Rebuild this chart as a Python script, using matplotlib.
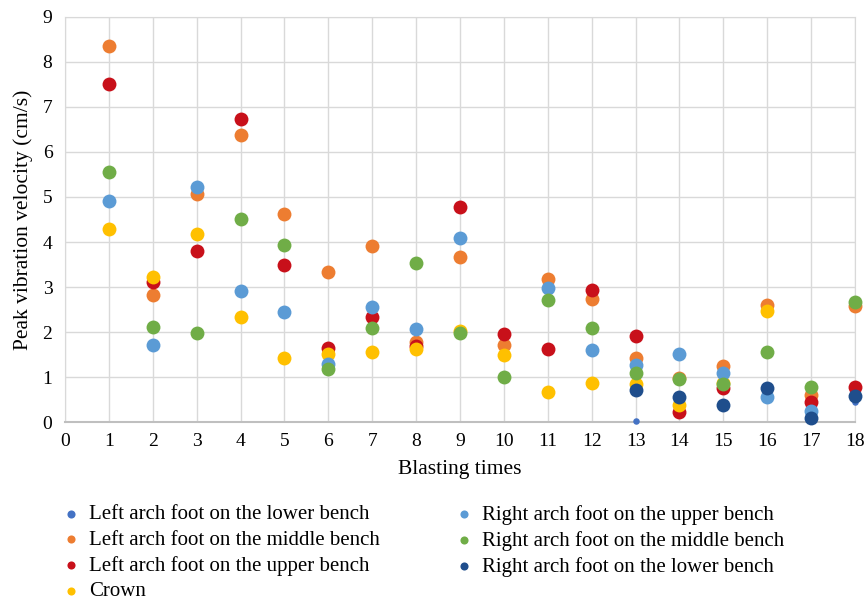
import numpy as np
import matplotlib.pyplot as plt

plt.rcParams['font.family'] = ['Liberation Serif', 'DejaVu Serif']

# blasting times and peak vibration velocity (cm/s)
left_lower_x = [13, 17, 18]
left_lower_y = [0.03, 0.12, 0.44]

left_middle_x = [1, 2, 3, 4, 5, 6, 7, 8, 9, 10, 11, 12, 13, 14, 15, 16, 17, 18]
left_middle_y = [8.35, 2.83, 5.07, 6.37, 4.63, 3.34, 3.92, 1.77, 3.67, 1.71, 3.18, 2.74, 1.42, 0.97, 1.25, 2.60, 0.60, 2.58]

left_upper_x = [1, 2, 3, 4, 5, 6, 7, 8, 9, 10, 11, 12, 13, 14, 15, 17, 18]
left_upper_y = [7.51, 3.12, 3.81, 6.73, 3.49, 1.65, 2.33, 1.70, 4.78, 1.95, 1.62, 2.94, 1.92, 0.23, 0.75, 0.44, 0.79]

crown_x = [1, 2, 3, 4, 5, 6, 7, 8, 9, 10, 11, 12, 13, 14, 15, 16]
crown_y = [4.29, 3.22, 4.17, 2.33, 1.42, 1.51, 1.55, 1.62, 2.03, 1.48, 0.66, 0.87, 0.85, 0.39, 0.87, 2.47]

right_upper_x = [1, 2, 3, 4, 5, 6, 7, 8, 9, 11, 12, 13, 14, 15, 16, 17]
right_upper_y = [4.92, 1.71, 5.23, 2.91, 2.45, 1.30, 2.56, 2.06, 4.08, 2.98, 1.61, 1.27, 1.52, 1.08, 0.56, 0.25]

right_middle_x = [1, 2, 3, 4, 5, 6, 7, 8, 9, 10, 11, 12, 13, 14, 15, 16, 17, 18]
right_middle_y = [5.55, 2.12, 1.99, 4.51, 3.94, 1.19, 2.09, 3.54, 1.97, 1.01, 2.71, 2.08, 1.10, 0.96, 0.84, 1.56, 0.79, 2.66]

right_lower_x = [13, 14, 15, 16, 17, 18]
right_lower_y = [0.71, 0.55, 0.39, 0.76, 0.10, 0.58]

series = [
    ('Left arch foot on the lower bench', left_lower_x, left_lower_y, '#4472C4', 22),
    ('Left arch foot on the middle bench', left_middle_x, left_middle_y, '#ED7D31', 100),
    ('Left arch foot on the upper bench', left_upper_x, left_upper_y, '#C8101A', 100),
    ('Crown', crown_x, crown_y, '#FFC000', 100),
    ('Right arch foot on the upper bench', right_upper_x, right_upper_y, '#5B9BD5', 100),
    ('Right arch foot on the middle bench', right_middle_x, right_middle_y, '#70AD47', 100),
    ('Right arch foot on the lower bench', right_lower_x, right_lower_y, '#1F4E8C', 100),
]

fig = plt.figure(figsize=(8.64, 6.03), dpi=100)
ax = fig.add_axes([0.0752, 0.300, 0.9144, 0.672])

for name, xs, ys, col, s in series:
    ax.scatter(xs, ys, s=s, color=col, label=name, linewidths=0, zorder=3, clip_on=False)

ax.set_xlim(0, 18)
ax.set_ylim(0, 9)
ax.set_xticks(np.arange(0, 19))
ax.set_yticks(np.arange(0, 10))
ax.grid(True, color='#d9d9d9', lw=1, zorder=0)
ax.tick_params(length=0, labelsize=14)
ax.tick_params(axis='x', pad=8)
ax.tick_params(axis='y', pad=9)
for sp in ax.spines.values():
    sp.set_color('#d9d9d9')
ax.spines['bottom'].set_color('#bfbfbf')
ax.spines['bottom'].set_linewidth(1.5)

ax.set_xlabel('Blasting times', fontsize=15.5, labelpad=7)
ax.set_ylabel('Peak vibration velocity (cm/s)', fontsize=15.5, labelpad=7)

handles, labels = ax.get_legend_handles_labels()
leg_kw = dict(loc='upper left', frameon=False, fontsize=15, handlelength=1.0,
              handletextpad=0.36, labelspacing=0.29, borderpad=0, borderaxespad=0)
leg1 = fig.legend(handles[:4], labels[:4], bbox_to_anchor=(0.070, 0.163), **leg_kw)
leg2 = fig.legend(handles[4:], labels[4:], bbox_to_anchor=(0.525, 0.163), **leg_kw)
for leg in (leg1, leg2):
    for h in leg.legend_handles:
        h.set_sizes([34])

fig.savefig('out.png', dpi=100)
